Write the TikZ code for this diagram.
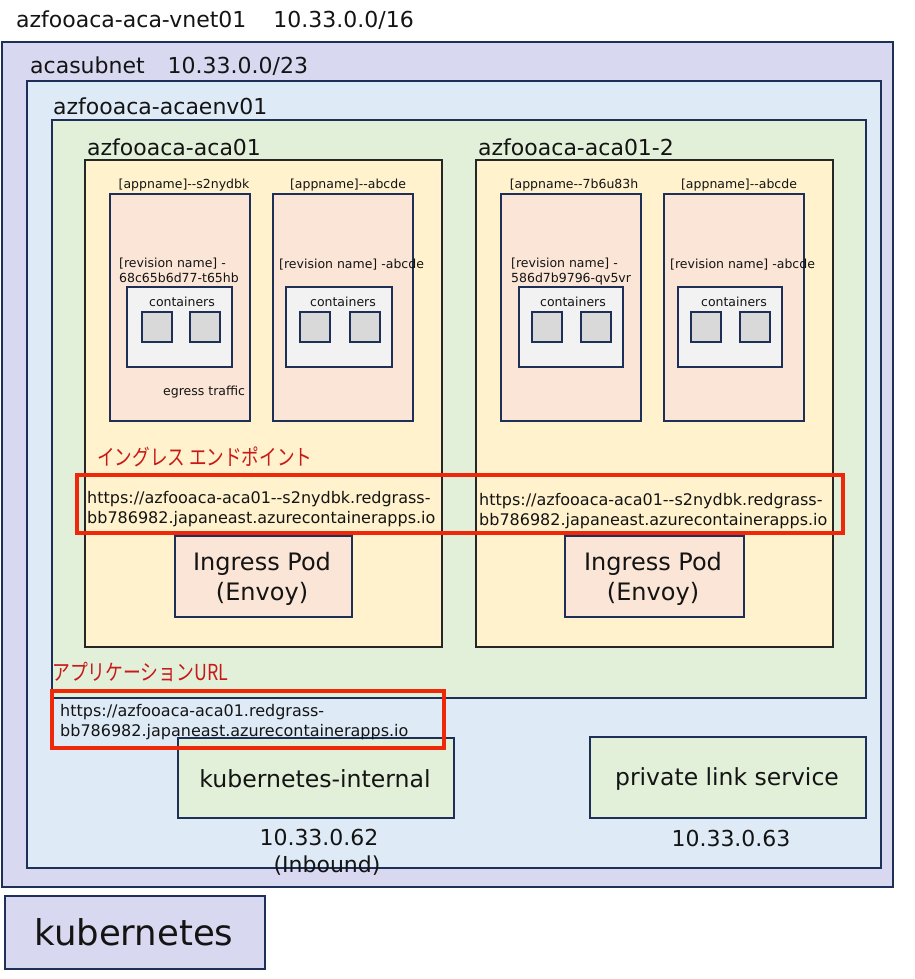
\documentclass[tikz,border=0pt]{standalone}
\usepackage{fontspec}
\usepackage{graphicx}
\setmainfont{DejaVu Sans}[Ligatures=TeXOff]
\newfontfamily\jpfont{Noto Sans CJK JP}
\newcommand{\myfs}[1]{\fontsize{#1}{#1}\selectfont}
\definecolor{navy}{RGB}{31,48,88}
\definecolor{vnetc}{RGB}{216,216,240}
\definecolor{subc}{RGB}{222,235,247}
\definecolor{envc}{RGB}{226,240,217}
\definecolor{appc}{RGB}{255,242,204}
\definecolor{revc}{RGB}{251,229,214}
\definecolor{contc}{RGB}{242,242,242}
\definecolor{sqc}{RGB}{217,217,217}
\definecolor{redline}{RGB}{240,40,10}
\definecolor{redtext}{RGB}{200,25,25}
\definecolor{txt}{RGB}{20,20,20}
\begin{document}
\begin{tikzpicture}[x=1pt,y=-1pt,
  box/.style={draw=navy, line width=2pt, inner sep=0pt, anchor=north west},
  appbox/.style={box, draw=black!85, fill=appc},
  revbox/.style={box, fill=revc, minimum width=140pt, minimum height=227pt},
  contbox/.style={box, fill=contc, minimum height=80pt},
  sqbox/.style={box, fill=sqc, minimum width=30pt, minimum height=30pt},
  redbox/.style={draw=redline, line width=4pt, inner sep=0pt, anchor=north west},
  lbl/.style={inner sep=0pt, text=txt, anchor=base west},
  clbl/.style={inner sep=0pt, text=txt, anchor=base},
  hdr/.style={lbl, font={\myfs{22}}},
  small/.style={font={\myfs{12.5}}},
  url/.style={lbl, font={\myfs{16}}},
  jp/.style={inner sep=0pt, text=redtext, anchor=base west, font={\jpfont\myfs{22}}}
]
\useasboundingbox (0,0) rectangle (914,979);

% nested containers
\node[box, fill=vnetc, minimum width=891pt, minimum height=845pt] (vnet) at (1,41) {};
\node[box, fill=subc, minimum width=854pt, minimum height=787pt] (subnet) at (26,80) {};
\node[box, fill=envc, minimum width=814pt, minimum height=578pt] (env) at (51,119) {};
\node[appbox, minimum width=357pt, minimum height=487pt] (app1) at (84,159) {};
\node[appbox, minimum width=357pt, minimum height=487pt] (app2) at (475,159) {};

% revisions
\node[revbox] (rev1) at (109,193) {};
\node[revbox] (rev2) at (272,193) {};
\node[revbox] (rev3) at (500,193) {};
\node[revbox] (rev4) at (663,193) {};

% containers
\node[contbox, minimum width=105pt] (cont1) at (126,286) {};
\node[contbox, minimum width=106pt] (cont2) at (285,286) {};
\node[contbox, minimum width=104pt] (cont3) at (518,286) {};
\node[contbox, minimum width=104pt] (cont4) at (677,286) {};
\foreach \x/\n in {141/a,189/b,299/c,349/d,531/e,580/f,690/g,739/h}
  \node[sqbox] (sq\n) at (\x,311) {};

% headers
\node[hdr] (tvnet) at (16,28) {azfooaca-aca-vnet01\hspace{27pt}10.33.0.0/16};
\node[hdr] (tsub) at (30,74) {acasubnet\hspace{23pt}10.33.0.0/23};
\node[hdr] (tenv) at (53,115) {azfooaca-acaenv01};
\node[hdr] (tapp1) at (87,155) {azfooaca-aca01};
\node[hdr] (tapp2) at (478,155) {azfooaca-aca01-2};

% revision labels
\node[clbl, small] (an1) at (184,188) {[appname]--s2nydbk};
\node[clbl, small] (an2) at (348,188) {[appname]--abcde};
\node[clbl, small] (an3) at (574,188) {[appname--7b6u83h};
\node[clbl, small] (an4) at (739,188) {[appname]--abcde};

\node[lbl, small] (rn1a) at (119,267) {[revision name] -};
\node[lbl, small] (rn1b) at (119,282) {68c65b6d77-t65hb};
\node[lbl, small] (rn2) at (279,268) {[revision name] -abcde};
\node[lbl, small] (rn3a) at (511,267) {[revision name] -};
\node[lbl, small] (rn3b) at (511,282) {586d7b9796-qv5vr};
\node[lbl, small] (rn4) at (670,268) {[revision name] -abcde};

\node[clbl, small] (cl1) at (182,306) {containers};
\node[clbl, small] (cl2) at (343,306) {containers};
\node[clbl, small] (cl3) at (573,306) {containers};
\node[clbl, small] (cl4) at (734,306) {containers};

\node[lbl, small] (egress) at (163,395) {egress traffic};

% ingress endpoint
\node[jp] (jing) at (97,465) {\scalebox{0.80}[1]{イングレス エンドポイント}};
\node[url] (u1a) at (87,503) {https://azfooaca-aca01--s2nydbk.redgrass-};
\node[url] (u1b) at (87,523) {bb786982.japaneast.azurecontainerapps.io};
\node[url] (u2a) at (479,505) {https://azfooaca-aca01--s2nydbk.redgrass-};
\node[url] (u2b) at (479,525) {bb786982.japaneast.azurecontainerapps.io};
\node[redbox, minimum width=766pt, minimum height=58pt] (ingbox) at (75,473) {};

% ingress pods
\node[box, fill=revc, minimum width=177pt, minimum height=81pt] (pod1) at (174,535) {};
\node[box, fill=revc, minimum width=179pt, minimum height=81pt] (pod2) at (564,535) {};
\node[clbl, font={\myfs{24}}] (p1a) at (262,570) {Ingress Pod};
\node[clbl, font={\myfs{24}}] (p1b) at (262,600) {(Envoy)};
\node[clbl, font={\myfs{24}}] (p2a) at (653,570) {Ingress Pod};
\node[clbl, font={\myfs{24}}] (p2b) at (653,600) {(Envoy)};

% bottom services
\node[box, fill=envc, minimum width=276pt, minimum height=80pt] (kint) at (177,737) {};
\node[box, fill=envc, minimum width=276pt, minimum height=81pt] (pls) at (589,736) {};
\node[clbl, font={\myfs{23.6}}] (kintt) at (315,787) {kubernetes-internal};
\node[clbl, font={\myfs{23.5}}] (plst) at (727,785) {private link service};
\node[clbl, font={\myfs{22}}] (ip1) at (319,845) {10.33.0.62};
\node[clbl, font={\myfs{22}}] (ip1b) at (327,872) {(Inbound)};
\node[clbl, font={\myfs{22}}] (ip2) at (731,846) {10.33.0.63};

% application URL
\node[jp] (japp) at (52,680) {\scalebox{0.81}[1]{アプリケーションURL}};
\node[url] (au1) at (60,716) {https://azfooaca-aca01.redgrass-};
\node[url] (au2) at (60,736) {bb786982.japaneast.azurecontainerapps.io};
\node[redbox, minimum width=392pt, minimum height=57pt] (appurlbox) at (50,689) {};

% legend
\node[box, fill=vnetc, minimum width=260pt, minimum height=73pt] (kube) at (4,895) {};
\node[clbl, font={\myfs{35.5}}] (kubet) at (134,945) {kubernetes};
\end{tikzpicture}
\end{document}
